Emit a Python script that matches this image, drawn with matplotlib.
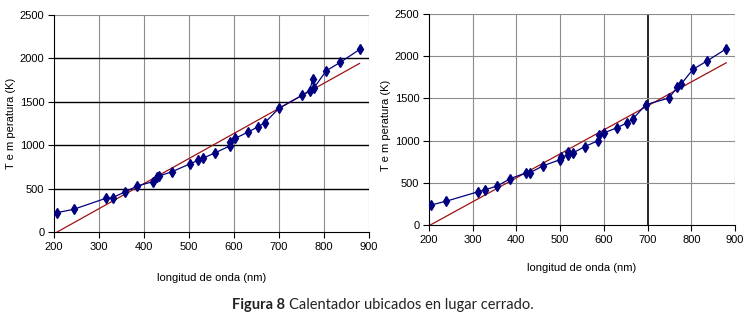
import numpy as np
import matplotlib
matplotlib.use("Agg")
import matplotlib.pyplot as plt

# left panel: measured points
left_nm = [207, 244, 315, 330, 358, 385, 421, 429, 434, 463, 502, 520, 531, 557,
           591, 591, 603, 632, 653, 668, 700, 751, 768, 775, 777, 805, 836, 879]
left_k = [223, 262, 388, 396, 462, 531, 581, 631, 646, 696, 785, 825, 850, 910,
          992, 1042, 1080, 1153, 1211, 1257, 1425, 1575, 1628, 1759, 1655, 1858, 1954, 2103]
left_trend_nm = [207, 879]
left_trend_k = [0, 1942]

# right panel: measured points
right_nm = [204, 240, 313, 329, 356, 386, 421, 431, 461, 500, 501, 517, 517, 530,
            556, 587, 588, 600, 630, 652, 666, 696, 749, 768, 776, 804, 835, 880]
right_k = [236, 283, 395, 419, 461, 550, 616, 620, 701, 775, 806, 826, 860, 856,
           928, 1000, 1066, 1090, 1153, 1207, 1254, 1426, 1504, 1634, 1665, 1845, 1940, 2088]
right_trend_nm = [203, 880]
right_trend_k = [0, 1922]

xticks = [200, 300, 400, 500, 600, 700, 800, 900]
yticks = [0, 500, 1000, 1500, 2000, 2500]

tick_font = ["DejaVu Sans Condensed", "Liberation Sans Narrow", "Liberation Sans"]


def draw_panel(ax, nm, k, tnm, tk, black_h, black_v, xlab_y, ylab_x, ylab_y):
    ax.set_xlim(200, 900)
    ax.set_ylim(0, 2500)
    ax.set_xticks(xticks)
    ax.set_yticks(yticks)
    for x in xticks[1:]:
        c = "black" if x in black_v else "#8c8c8c"
        lw = 1.2 if x in black_v else 0.8
        ax.axvline(x, color=c, lw=lw, zorder=1)
    for y in yticks[1:]:
        c = "black" if y in black_h else "#8c8c8c"
        lw = 1.0 if y in black_h else 0.8
        ax.axhline(y, color=c, lw=lw, zorder=1)
    ax.plot(tnm, tk, color="#a01010", lw=0.9, zorder=2)
    ax.plot(nm, k, color="#000080", lw=0.9, marker="d", ms=5,
            markerfacecolor="#000080", markeredgecolor="#000080", zorder=3)
    for s in ["top", "right"]:
        ax.spines[s].set_visible(False)
    ax.spines["left"].set_color("black")
    ax.spines["bottom"].set_color("black")
    ax.tick_params(direction="out", length=4, width=0.8, labelsize=8, pad=3)
    for lab in ax.get_xticklabels() + ax.get_yticklabels():
        lab.set_family(tick_font)
    ax.set_xlabel("longitud de onda (nm)", family=tick_font, fontsize=8)
    ax.set_ylabel("T e m peratura (K)", family=tick_font, fontsize=8)
    ax.xaxis.set_label_coords(0.5, xlab_y)
    ax.yaxis.set_label_coords(ylab_x, ylab_y)


fig = plt.figure(figsize=(7.56, 3.25), dpi=100)
ax1 = fig.add_axes([54 / 756, 1 - 232 / 325, 315 / 756, 217 / 325])
ax2 = fig.add_axes([429 / 756, 1 - 225 / 325, 306 / 756, 211 / 325])

draw_panel(ax1, left_nm, left_k, left_trend_nm, left_trend_k,
           black_h=[500, 1000, 1500, 2000], black_v=[],
           xlab_y=-0.19, ylab_x=-0.12, ylab_y=0.5)
draw_panel(ax2, right_nm, right_k, right_trend_nm, right_trend_k,
           black_h=[], black_v=[700],
           xlab_y=-0.18, ylab_x=-0.125, ylab_y=0.47)

# caption with bold prefix
cap_font = ["Lato", "DejaVu Sans"]
t1 = fig.text(232 / 756, 1 - 305 / 325, "Figura 8", fontsize=10.5, weight="bold",
              family=cap_font, va="center", color="#222222")
fig.canvas.draw()
bb = t1.get_window_extent(fig.canvas.get_renderer())
fig.text((bb.x1 + 4) / 756, 1 - 305 / 325, "Calentador ubicados en lugar cerrado.",
         fontsize=10.5, family=cap_font, va="center", color="#222222")

fig.savefig("out.png", dpi=100)
